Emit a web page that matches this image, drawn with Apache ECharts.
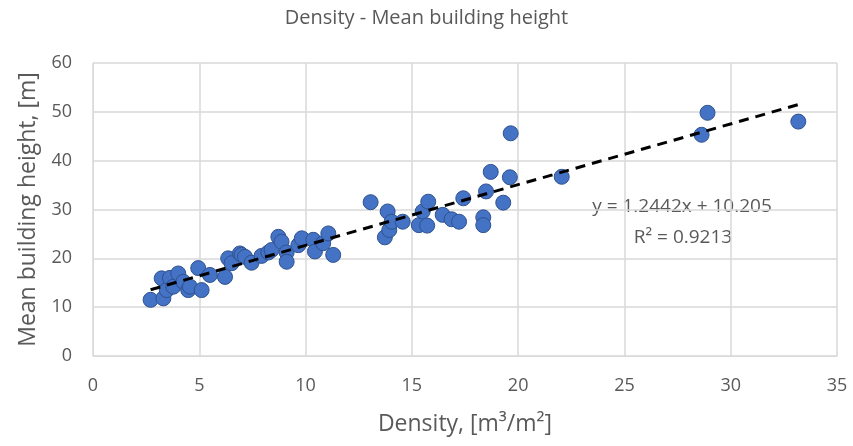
<!DOCTYPE html>
<html><head><meta charset="utf-8">
<script src="https://cdn.jsdelivr.net/npm/echarts@6/dist/echarts.min.js"></script>
<style>html,body{margin:0;padding:0;background:#fff}#c{width:853px;height:446px}</style>
</head><body><div id="c"></div>
<script>
const densityX = [2.71, 3.23, 3.31, 3.47, 3.62, 3.78, 4.01, 4.25, 4.48, 4.56, 4.95, 5.11, 5.50, 6.21, 6.36, 6.52, 6.91, 6.99, 7.15, 7.46, 7.93, 8.25, 8.40, 8.72, 8.87, 9.11, 9.11, 9.66, 9.82, 10.36, 10.44, 10.83, 11.07, 11.30, 13.06, 13.73, 13.86, 13.94, 14.05, 14.57, 15.33, 15.51, 15.72, 15.77, 16.45, 16.87, 17.22, 17.42, 18.36, 18.36, 18.49, 18.71, 19.30, 19.61, 19.65, 22.05, 28.63, 28.91, 33.18];
const heightY = [11.5, 15.9, 11.8, 13.5, 16.0, 14.2, 16.9, 15.2, 13.5, 14.2, 18.0, 13.5, 16.6, 16.2, 20.0, 19.0, 21.0, 20.7, 20.3, 19.1, 20.5, 21.2, 21.7, 24.4, 23.4, 21.2, 19.3, 22.7, 24.1, 23.8, 21.4, 23.1, 25.1, 20.7, 31.5, 24.3, 29.6, 25.8, 27.5, 27.5, 26.8, 29.6, 26.7, 31.6, 28.9, 28.0, 27.5, 32.3, 28.4, 26.8, 33.7, 37.7, 31.4, 36.6, 45.6, 36.7, 45.3, 49.8, 48.0];
const trendSlope = 1.2442;
const trendIntercept = 10.205;
const trendR2 = 0.9213;
const xTicks = [0, 5, 10, 15, 20, 25, 30, 35];
const yTicks = [0, 10, 20, 30, 40, 50, 60];

const points = densityX.map((x, i) => [x, heightY[i]]);
const xMin = Math.min(...densityX), xMax = Math.max(...densityX);
const trend = [[xMin, trendSlope * xMin + trendIntercept], [xMax, trendSlope * xMax + trendIntercept]];

const FONT = 'Open Sans';
const GREY = '#595959';
const chart = echarts.init(document.getElementById('c'));
chart.setOption({
  animation: false,
  title: { text: 'Density - Mean building height', left: 'center', top: 3,
    textStyle: { fontFamily: FONT, fontSize: 20, fontWeight: 'normal', color: GREY } },
  grid: { left: 93, right: 16, top: 63, bottom: 90 },
  xAxis: {
    type: 'value', min: xTicks[0], max: xTicks[xTicks.length - 1], interval: 5,
    name: 'Density, [m³/m²]', nameLocation: 'middle', nameGap: 57,
    nameTextStyle: { fontFamily: FONT, fontSize: 23, color: GREY },
    axisLine: { show: true, lineStyle: { color: '#d9d9d9' } },
    axisTick: { show: false },
    axisLabel: { fontFamily: FONT, fontSize: 18, color: GREY, margin: 21 },
    splitLine: { show: true, lineStyle: { color: '#d9d9d9', width: 1.5 } }
  },
  yAxis: {
    type: 'value', min: yTicks[0], max: yTicks[yTicks.length - 1], interval: 10,
    name: 'Mean building height, [m]', nameLocation: 'middle', nameGap: 53,
    nameTextStyle: { fontFamily: FONT, fontSize: 23, color: GREY },
    axisLine: { show: true, lineStyle: { color: '#d9d9d9' } },
    axisTick: { show: false },
    axisLabel: { fontFamily: FONT, fontSize: 18, color: GREY, margin: 21 },
    splitLine: { show: true, lineStyle: { color: '#d9d9d9', width: 1.5 } }
  },
  series: [
    { type: 'scatter', data: points, symbolSize: 15,
      itemStyle: { color: '#4472C4', borderColor: '#2F528F', borderWidth: 1, opacity: 1 }, z: 3 },
    { type: 'line', data: trend, symbol: 'none', z: 4,
      lineStyle: { color: '#000', width: 3, type: [10, 7] } }
  ],
  graphic: [
    { type: 'text', x: 682, y: 207, style: { text: 'y = 1.2442x + 10.205', font: '19px "Open Sans"', fill: GREY, align: 'center', verticalAlign: 'middle' } },
    { type: 'text', x: 683, y: 238, style: { text: 'R² = ' + trendR2, font: '19px "Open Sans"', fill: GREY, align: 'center', verticalAlign: 'middle' } }
  ]
});
</script></body></html>
